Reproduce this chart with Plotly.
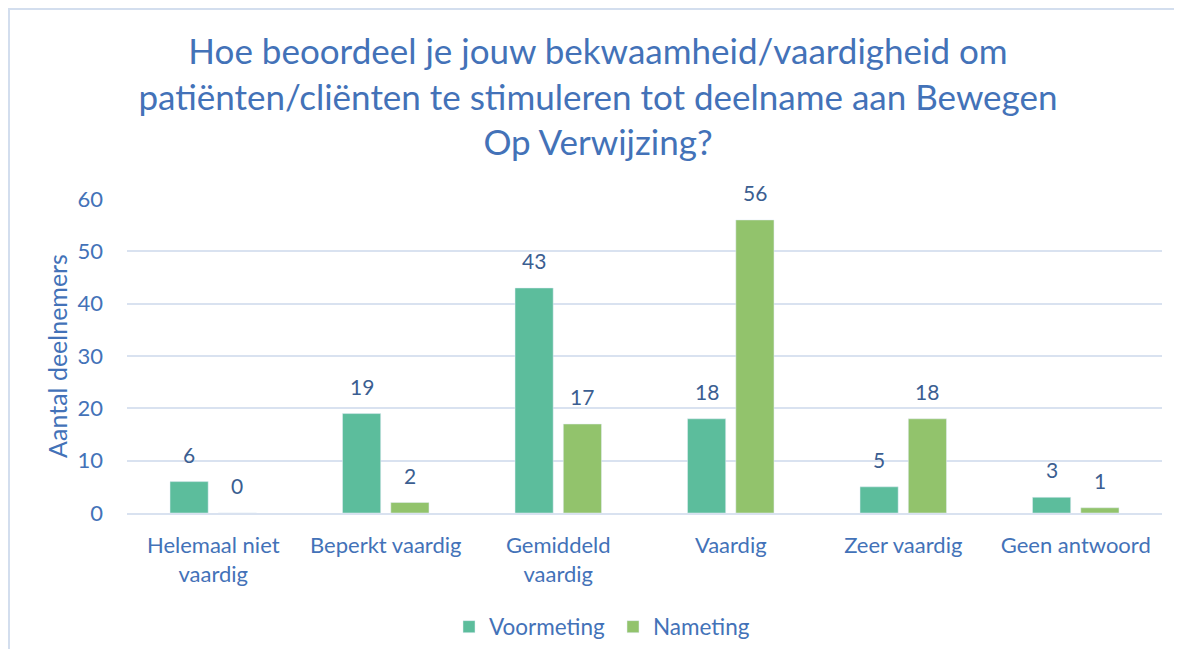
import plotly.graph_objects as go

categories = ["Helemaal niet<br>vaardig", "Beperkt vaardig", "Gemiddeld<br>vaardig",
              "Vaardig", "Zeer vaardig", "Geen antwoord"]
voormeting = [6, 19, 43, 18, 5, 3]
nameting = [0, 2, 17, 56, 18, 1]
series = [("Voormeting", voormeting, "#5CBD9C"), ("Nameting", nameting, "#92C36C")]

FONT = "Lato"
BLUE = "#4372B8"
LABEL = "#3B5E91"

# The page body has an 8px margin, so the figure starts at (8, 8) in the window.
OFF = 8
W, H = 1182 - 2 * OFF, 657 - 2 * OFF
L, T = 127 - OFF, 199 - OFF
R = W + OFF - 1162
B = H + OFF - 513
pw = W - L - R
ph = H - T - B

def px(x):
    return (x - OFF - L) / pw

def py(y):
    return (H - B - (y - OFF)) / ph

BARGAP = 0.44
fig = go.Figure()
annotations = []
nser = len(series)
slot = (1 - BARGAP) / nser
for k, (name, vals, color) in enumerate(series):
    fig.add_trace(go.Bar(name=name, x=categories, y=vals, marker_color=color))
    off = -(1 - BARGAP) / 2 + slot * (k + 0.5)
    for i, v in enumerate(vals):
        annotations.append(dict(x=i + off, y=v, xref="x", yref="y", text=str(v),
                                showarrow=False, yanchor="bottom", yshift=13,
                                font=dict(size=21, color=LABEL, family=FONT)))

fig.update_layout(
    width=W, height=H,
    margin=dict(l=L, r=R, t=T, b=B, autoexpand=False),
    paper_bgcolor="white", plot_bgcolor="white",
    barmode="group", bargap=BARGAP, bargroupgap=0.21,
    font=dict(family=FONT, color=BLUE),
    title=dict(text="Hoe beoordeel je jouw bekwaamheid/vaardigheid om<br>patiënten/cliënten te stimuleren tot deelname aan Bewegen<br>Op Verwijzing?",
               x=(598 - OFF) / W, xanchor="center", yref="container", y=1 - (64 - OFF) / H, yanchor="middle",
               font=dict(size=35, color=BLUE, family=FONT)),
    xaxis=dict(tickfont=dict(size=22, color=BLUE), showgrid=False, showline=True,
               linecolor="#D9E2F0", linewidth=2, ticks="", ticklabelstandoff=12),
    yaxis=dict(range=[0, 60], dtick=10, tickfont=dict(size=22, color=BLUE),
               gridcolor="#D9E2F0", gridwidth=2, zeroline=False, ticks="",
               ticklabelstandoff=23,
               title=dict(text="Aantal deelnemers", font=dict(size=25, color=BLUE), standoff=2)),
    legend=dict(orientation="h", xref="container", x=(613 - OFF) / W, xanchor="center",
                y=py(627), yanchor="middle", entrywidth=119,
                font=dict(size=22.5, color=BLUE), itemwidth=30, traceorder="normal"),
    showlegend=True,
    annotations=annotations,
    shapes=[
        dict(type="line", xref="paper", yref="paper", x0=px(9), x1=px(9), y0=py(8), y1=py(H + OFF),
             line=dict(color="#D3DEEE", width=2)),
        dict(type="line", xref="paper", yref="paper", x0=px(8), x1=px(W + OFF), y0=py(9), y1=py(9),
             line=dict(color="#D3DEEE", width=2)),
    ],
)

fig.write_html("out.html")
